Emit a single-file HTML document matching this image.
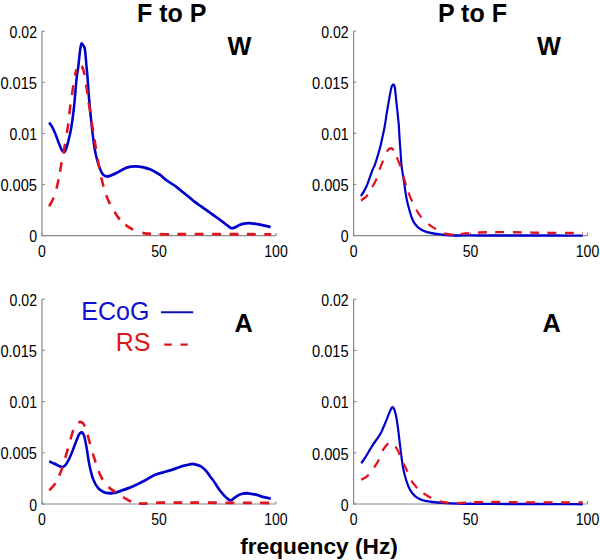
<!DOCTYPE html>
<html><head><meta charset="utf-8"><style>
html,body{margin:0;padding:0;background:#fff;width:600px;height:560px;overflow:hidden}
svg{display:block}
text{font-family:"Liberation Sans",sans-serif;fill:#000}
.t{font-size:16px}
.b{font-weight:bold}
</style></head><body>
<svg width="600" height="560" viewBox="0 0 600 560">
<path d="M42.0,31.25V235.7H276.0" fill="none" stroke="#8a8a8a" stroke-width="1.2"/>
<path d="M42.0,235.70h2.8" stroke="#8a8a8a" stroke-width="1.1"/>
<text transform="translate(37.00,242.40) scale(0.88,1)" text-anchor="end" class="t">0</text>
<path d="M42.0,184.59h2.8" stroke="#8a8a8a" stroke-width="1.1"/>
<text transform="translate(37.00,191.29) scale(0.915,1)" text-anchor="end" class="t">0.005</text>
<path d="M42.0,133.47h2.8" stroke="#8a8a8a" stroke-width="1.1"/>
<text transform="translate(37.00,140.17) scale(0.88,1)" text-anchor="end" class="t">0.01</text>
<path d="M42.0,82.36h2.8" stroke="#8a8a8a" stroke-width="1.1"/>
<text transform="translate(37.00,89.06) scale(0.915,1)" text-anchor="end" class="t">0.015</text>
<path d="M42.0,31.25h2.8" stroke="#8a8a8a" stroke-width="1.1"/>
<text transform="translate(37.00,37.95) scale(0.88,1)" text-anchor="end" class="t">0.02</text>
<path d="M42.00,235.7v-2.8" stroke="#8a8a8a" stroke-width="1.1"/>
<text transform="translate(42.00,257.00) scale(0.88,1)" text-anchor="middle" class="t">0</text>
<path d="M159.00,235.7v-2.8" stroke="#8a8a8a" stroke-width="1.1"/>
<text transform="translate(159.00,257.00) scale(0.88,1)" text-anchor="middle" class="t">50</text>
<path d="M276.00,235.7v-2.8" stroke="#8a8a8a" stroke-width="1.1"/>
<text transform="translate(276.00,257.00) scale(0.88,1)" text-anchor="middle" class="t">100</text>
<path d="M353.6,31.0V235.6H587.5" fill="none" stroke="#8a8a8a" stroke-width="1.2"/>
<path d="M353.6,235.60h2.8" stroke="#8a8a8a" stroke-width="1.1"/>
<text transform="translate(348.60,242.30) scale(0.88,1)" text-anchor="end" class="t">0</text>
<path d="M353.6,184.45h2.8" stroke="#8a8a8a" stroke-width="1.1"/>
<text transform="translate(348.60,191.15) scale(0.915,1)" text-anchor="end" class="t">0.005</text>
<path d="M353.6,133.30h2.8" stroke="#8a8a8a" stroke-width="1.1"/>
<text transform="translate(348.60,140.00) scale(0.88,1)" text-anchor="end" class="t">0.01</text>
<path d="M353.6,82.15h2.8" stroke="#8a8a8a" stroke-width="1.1"/>
<text transform="translate(348.60,88.85) scale(0.915,1)" text-anchor="end" class="t">0.015</text>
<path d="M353.6,31.00h2.8" stroke="#8a8a8a" stroke-width="1.1"/>
<text transform="translate(348.60,37.70) scale(0.88,1)" text-anchor="end" class="t">0.02</text>
<path d="M353.60,235.6v-2.8" stroke="#8a8a8a" stroke-width="1.1"/>
<text transform="translate(353.60,256.90) scale(0.88,1)" text-anchor="middle" class="t">0</text>
<path d="M470.55,235.6v-2.8" stroke="#8a8a8a" stroke-width="1.1"/>
<text transform="translate(470.55,256.90) scale(0.88,1)" text-anchor="middle" class="t">50</text>
<path d="M587.50,235.6v-2.8" stroke="#8a8a8a" stroke-width="1.1"/>
<text transform="translate(587.50,256.90) scale(0.88,1)" text-anchor="middle" class="t">100</text>
<path d="M42.0,299.1V504.0H275.9" fill="none" stroke="#8a8a8a" stroke-width="1.2"/>
<path d="M42.0,504.00h2.8" stroke="#8a8a8a" stroke-width="1.1"/>
<text transform="translate(37.00,510.70) scale(0.88,1)" text-anchor="end" class="t">0</text>
<path d="M42.0,452.77h2.8" stroke="#8a8a8a" stroke-width="1.1"/>
<text transform="translate(37.00,459.47) scale(0.915,1)" text-anchor="end" class="t">0.005</text>
<path d="M42.0,401.55h2.8" stroke="#8a8a8a" stroke-width="1.1"/>
<text transform="translate(37.00,408.25) scale(0.88,1)" text-anchor="end" class="t">0.01</text>
<path d="M42.0,350.33h2.8" stroke="#8a8a8a" stroke-width="1.1"/>
<text transform="translate(37.00,357.03) scale(0.915,1)" text-anchor="end" class="t">0.015</text>
<path d="M42.0,299.10h2.8" stroke="#8a8a8a" stroke-width="1.1"/>
<text transform="translate(37.00,305.80) scale(0.88,1)" text-anchor="end" class="t">0.02</text>
<path d="M42.00,504.0v-2.8" stroke="#8a8a8a" stroke-width="1.1"/>
<text transform="translate(42.00,525.30) scale(0.88,1)" text-anchor="middle" class="t">0</text>
<path d="M158.95,504.0v-2.8" stroke="#8a8a8a" stroke-width="1.1"/>
<text transform="translate(158.95,525.30) scale(0.88,1)" text-anchor="middle" class="t">50</text>
<path d="M275.90,504.0v-2.8" stroke="#8a8a8a" stroke-width="1.1"/>
<text transform="translate(275.90,525.30) scale(0.88,1)" text-anchor="middle" class="t">100</text>
<path d="M353.6,299.3V504.0H587.5" fill="none" stroke="#8a8a8a" stroke-width="1.2"/>
<path d="M353.6,504.00h2.8" stroke="#8a8a8a" stroke-width="1.1"/>
<text transform="translate(348.60,510.70) scale(0.88,1)" text-anchor="end" class="t">0</text>
<path d="M353.6,452.82h2.8" stroke="#8a8a8a" stroke-width="1.1"/>
<text transform="translate(348.60,459.52) scale(0.915,1)" text-anchor="end" class="t">0.005</text>
<path d="M353.6,401.65h2.8" stroke="#8a8a8a" stroke-width="1.1"/>
<text transform="translate(348.60,408.35) scale(0.88,1)" text-anchor="end" class="t">0.01</text>
<path d="M353.6,350.48h2.8" stroke="#8a8a8a" stroke-width="1.1"/>
<text transform="translate(348.60,357.18) scale(0.915,1)" text-anchor="end" class="t">0.015</text>
<path d="M353.6,299.30h2.8" stroke="#8a8a8a" stroke-width="1.1"/>
<text transform="translate(348.60,306.00) scale(0.88,1)" text-anchor="end" class="t">0.02</text>
<path d="M353.60,504.0v-2.8" stroke="#8a8a8a" stroke-width="1.1"/>
<text transform="translate(353.60,525.30) scale(0.88,1)" text-anchor="middle" class="t">0</text>
<path d="M470.55,504.0v-2.8" stroke="#8a8a8a" stroke-width="1.1"/>
<text transform="translate(470.55,525.30) scale(0.88,1)" text-anchor="middle" class="t">50</text>
<path d="M587.50,504.0v-2.8" stroke="#8a8a8a" stroke-width="1.1"/>
<text transform="translate(587.50,525.30) scale(0.88,1)" text-anchor="middle" class="t">100</text>
<g transform="scale(0.905,1)">
<path d="M54.25,122.50C54.88,123.33 56.74,125.33 58.01,127.50C59.28,129.67 60.68,132.83 61.88,135.50C63.08,138.17 64.18,141.17 65.19,143.50C66.21,145.83 67.13,148.08 67.96,149.50C68.78,150.92 69.43,151.83 70.17,152.00C70.90,152.17 71.57,152.02 72.38,150.50C73.19,148.98 73.98,146.65 75.03,142.90C76.08,139.15 77.57,133.82 78.67,128.00C79.78,122.18 80.66,116.27 81.66,108.00C82.65,99.73 83.85,85.17 84.64,78.40C85.43,71.63 85.80,71.85 86.41,67.40C87.02,62.95 87.72,55.60 88.29,51.70C88.86,47.80 89.34,45.20 89.83,44.00C90.33,42.80 90.68,43.92 91.27,44.50C91.86,45.08 92.89,46.30 93.37,47.50C93.85,48.70 93.76,48.38 94.14,51.70C94.53,55.02 95.25,62.95 95.69,67.40C96.13,71.85 96.32,72.97 96.80,78.40C97.27,83.83 97.90,92.90 98.56,100.00C99.23,107.10 100.11,115.17 100.77,121.00C101.44,126.83 101.99,130.83 102.54,135.00C103.09,139.17 103.50,142.58 104.09,146.00C104.68,149.42 105.38,152.67 106.08,155.50C106.78,158.33 107.46,160.58 108.29,163.00C109.12,165.42 110.13,168.08 111.05,170.00C111.97,171.92 112.56,173.42 113.81,174.50C115.06,175.58 116.17,176.70 118.56,176.50C120.96,176.30 124.60,174.78 128.18,173.30C131.75,171.82 136.32,168.77 140.00,167.60C143.68,166.43 146.91,166.28 150.28,166.30C153.65,166.33 157.64,167.26 160.22,167.75C162.80,168.24 163.90,168.58 165.75,169.25C167.59,169.92 169.43,170.83 171.27,171.75C173.11,172.67 174.95,173.53 176.80,174.75C178.64,175.97 180.48,177.79 182.32,179.10C184.16,180.41 186.00,181.47 187.85,182.60C189.69,183.73 191.53,184.68 193.37,185.90C195.21,187.12 197.05,188.57 198.90,189.90C200.74,191.23 202.58,192.57 204.42,193.90C206.26,195.23 208.10,196.55 209.94,197.90C211.79,199.25 213.63,200.72 215.47,202.00C217.31,203.28 219.15,204.42 220.99,205.60C222.84,206.78 224.68,207.93 226.52,209.10C228.36,210.27 230.39,211.53 232.04,212.60C233.70,213.67 235.17,214.67 236.46,215.50C237.75,216.33 238.31,216.63 239.78,217.60C241.25,218.57 243.46,220.03 245.30,221.30C247.15,222.57 249.45,224.22 250.83,225.20C252.21,226.18 252.76,226.70 253.59,227.20C254.42,227.70 255.12,228.07 255.80,228.20C256.48,228.33 257.03,228.13 257.68,228.00C258.32,227.87 258.42,227.93 259.67,227.40C260.92,226.87 263.54,225.43 265.19,224.80C266.85,224.17 267.99,223.87 269.61,223.60C271.23,223.33 273.08,223.18 274.92,223.20C276.76,223.22 278.56,223.45 280.66,223.70C282.76,223.95 284.46,224.17 287.51,224.70C290.57,225.23 297.09,226.53 299.01,226.90" fill="none" stroke="#0000cc" stroke-width="2.8" stroke-linejoin="round"/>
<path d="M398.78,196.20C399.37,195.33 401.20,192.83 402.32,191.00C403.44,189.17 404.46,187.52 405.52,185.20C406.59,182.88 407.72,179.63 408.73,177.10C409.74,174.57 410.70,172.02 411.60,170.00C412.50,167.98 413.43,166.63 414.14,165.00C414.86,163.37 415.17,162.33 415.91,160.20C416.65,158.07 417.73,154.88 418.56,152.20C419.39,149.52 420.17,146.80 420.88,144.10C421.60,141.40 422.23,138.68 422.87,136.00C423.52,133.32 424.20,130.63 424.75,128.00C425.30,125.37 425.73,122.83 426.19,120.20C426.65,117.57 427.03,114.88 427.51,112.20C427.99,109.52 428.55,106.78 429.06,104.10C429.58,101.42 430.07,98.73 430.61,96.10C431.14,93.47 431.80,90.07 432.27,88.30C432.73,86.53 432.98,86.15 433.37,85.50C433.76,84.85 434.20,84.40 434.59,84.40C434.97,84.40 435.40,84.90 435.69,85.50C435.99,86.10 436.08,86.23 436.35,88.00C436.63,89.77 437.03,93.42 437.35,96.10C437.66,98.78 437.92,101.42 438.23,104.10C438.55,106.78 438.91,109.52 439.23,112.20C439.54,114.88 439.87,118.07 440.11,120.20C440.35,122.33 440.42,121.83 440.66,125.00C440.90,128.17 441.25,135.03 441.55,139.20C441.84,143.37 442.06,145.52 442.43,150.00C442.80,154.48 443.08,160.73 443.76,166.10C444.44,171.47 445.62,176.85 446.52,182.20C447.42,187.55 448.14,193.38 449.17,198.20C450.20,203.02 451.53,207.35 452.71,211.10C453.89,214.85 454.77,218.02 456.24,220.70C457.72,223.38 459.47,225.45 461.55,227.20C463.63,228.95 466.06,230.18 468.73,231.20C471.40,232.22 474.62,232.77 477.57,233.30C480.52,233.83 483.13,234.05 486.41,234.40C489.69,234.75 492.72,235.23 497.24,235.40C501.76,235.57 508.10,235.41 513.53,235.42C518.96,235.43 524.39,235.44 529.82,235.44C535.25,235.45 540.68,235.46 546.11,235.47C551.54,235.47 556.98,235.48 562.41,235.49C567.84,235.50 573.27,235.50 578.70,235.51C584.13,235.52 589.56,235.53 594.99,235.53C600.42,235.54 605.85,235.55 611.28,235.56C616.71,235.56 622.14,235.57 627.58,235.58C633.01,235.59 641.15,235.60 643.87,235.60" fill="none" stroke="#0000cc" stroke-width="2.4" stroke-linejoin="round"/>
<path d="M54.36,461.40C55.41,461.82 58.86,463.13 60.66,463.90C62.47,464.67 63.87,465.47 65.19,466.00C66.52,466.53 67.61,467.10 68.62,467.10C69.63,467.10 70.39,466.67 71.27,466.00C72.15,465.33 72.74,464.93 73.92,463.10C75.10,461.27 76.70,458.48 78.34,455.00C79.98,451.52 82.27,445.60 83.76,442.20C85.25,438.80 86.26,436.25 87.29,434.60C88.32,432.95 89.21,432.48 89.94,432.30C90.68,432.12 91.12,432.63 91.71,433.50C92.30,434.37 92.74,434.75 93.48,437.50C94.22,440.25 95.41,446.25 96.13,450.00C96.85,453.75 97.15,456.67 97.79,460.00C98.43,463.33 99.08,466.67 100.00,470.00C100.92,473.33 101.93,477.00 103.31,480.00C104.70,483.00 106.35,485.97 108.29,488.00C110.22,490.03 113.02,491.35 114.92,492.20C116.81,493.05 118.10,492.93 119.67,493.10C121.23,493.27 122.80,493.32 124.31,493.20C125.82,493.08 127.20,492.80 128.73,492.40C130.26,492.00 131.14,491.55 133.48,490.80C135.82,490.05 139.69,489.00 142.76,487.90C145.84,486.80 148.88,485.52 151.93,484.20C154.99,482.88 158.80,481.13 161.10,480.00C163.41,478.87 163.74,478.35 165.75,477.40C167.75,476.45 170.70,475.15 173.15,474.30C175.60,473.45 177.99,472.97 180.44,472.30C182.89,471.63 185.38,471.00 187.85,470.30C190.31,469.60 192.80,468.83 195.25,468.10C197.70,467.37 200.09,466.53 202.54,465.90C204.99,465.27 207.97,464.60 209.94,464.30C211.92,464.00 212.39,463.77 214.36,464.10C216.34,464.43 219.52,465.15 221.77,466.30C224.01,467.45 226.13,469.33 227.85,471.00C229.56,472.67 230.74,474.72 232.04,476.30C233.35,477.88 233.85,478.10 235.69,480.50C237.53,482.90 240.63,487.78 243.09,490.70C245.56,493.62 248.49,496.40 250.50,498.00C252.50,499.60 253.43,500.52 255.14,500.30C256.85,500.08 258.86,497.75 260.77,496.70C262.69,495.65 264.42,494.57 266.63,494.00C268.84,493.43 271.33,493.18 274.03,493.30C276.74,493.42 279.93,494.07 282.87,494.70C285.82,495.33 288.99,496.45 291.71,497.10C294.44,497.75 297.97,498.35 299.23,498.60" fill="none" stroke="#0000cc" stroke-width="2.8" stroke-linejoin="round"/>
<path d="M399.12,463.30C399.78,462.45 401.88,459.87 403.09,458.20C404.31,456.53 405.32,454.93 406.41,453.30C407.50,451.67 408.53,450.03 409.61,448.40C410.70,446.77 411.84,444.97 412.93,443.50C414.01,442.03 415.05,441.00 416.13,439.60C417.22,438.20 418.45,436.58 419.45,435.10C420.44,433.62 421.20,432.42 422.10,430.70C423.00,428.98 424.03,426.60 424.86,424.80C425.69,423.00 426.35,421.53 427.07,419.90C427.79,418.27 428.49,416.53 429.17,415.00C429.85,413.47 430.59,411.83 431.16,410.70C431.73,409.57 432.15,408.77 432.60,408.20C433.04,407.63 433.41,407.30 433.81,407.30C434.22,407.30 434.64,407.63 435.03,408.20C435.41,408.77 435.69,409.38 436.13,410.70C436.57,412.02 437.26,414.32 437.68,416.10C438.10,417.88 438.36,419.62 438.67,421.40C438.99,423.18 439.26,424.87 439.56,426.80C439.85,428.73 440.15,430.83 440.44,433.00C440.74,435.17 440.85,436.20 441.33,439.80C441.80,443.40 442.63,449.90 443.31,454.60C444.00,459.30 444.51,463.80 445.41,468.00C446.32,472.20 447.50,476.23 448.73,479.80C449.96,483.37 451.18,486.68 452.82,489.40C454.46,492.12 456.39,494.37 458.56,496.10C460.74,497.83 463.00,498.87 465.86,499.80C468.71,500.73 472.14,501.20 475.69,501.70C479.24,502.20 483.48,502.52 487.18,502.80C490.88,503.08 493.46,503.23 497.90,503.40C502.34,503.57 508.45,503.73 513.81,503.80C519.17,503.88 524.65,503.83 530.07,503.85C535.49,503.87 540.91,503.88 546.33,503.90C551.74,503.92 557.16,503.93 562.58,503.95C568.00,503.97 573.42,503.98 578.84,504.00C584.26,504.02 589.68,504.03 595.10,504.05C600.52,504.07 605.93,504.08 611.35,504.10C616.77,504.12 622.19,504.13 627.61,504.15C633.03,504.17 641.16,504.19 643.87,504.20" fill="none" stroke="#0000cc" stroke-width="2.4" stroke-linejoin="round"/>
<path d="M54.14,206.50C54.99,205.08 57.85,200.98 59.23,198.00C60.61,195.02 61.55,191.57 62.43,188.60C63.31,185.63 63.89,182.97 64.53,180.20C65.17,177.43 65.71,174.98 66.30,172.00C66.89,169.02 67.44,165.40 68.07,162.30C68.69,159.20 69.39,156.67 70.06,153.40C70.72,150.13 71.42,146.10 72.04,142.70C72.67,139.30 73.22,136.28 73.81,133.00C74.40,129.72 74.99,127.17 75.58,123.00C76.17,118.83 76.72,112.50 77.35,108.00C77.97,103.50 78.69,100.00 79.34,96.00C79.98,92.00 80.53,87.83 81.22,84.00C81.90,80.17 82.69,75.75 83.43,73.00C84.16,70.25 84.81,68.78 85.64,67.50C86.46,66.22 87.64,65.55 88.40,65.30C89.15,65.05 89.61,65.38 90.17,66.00C90.72,66.62 91.22,67.73 91.71,69.00C92.21,70.27 92.74,71.93 93.15,73.60C93.55,75.27 93.83,77.22 94.14,79.00C94.46,80.78 94.62,81.98 95.03,84.30C95.43,86.62 96.10,89.90 96.57,92.90C97.05,95.90 97.40,99.22 97.90,102.30C98.40,105.38 99.04,108.22 99.56,111.40C100.07,114.58 100.46,118.33 100.99,121.40C101.53,124.47 102.17,126.70 102.76,129.80C103.35,132.90 103.98,136.80 104.53,140.00C105.08,143.20 105.52,145.90 106.08,149.00C106.63,152.10 107.24,155.45 107.85,158.60C108.45,161.75 109.06,164.82 109.72,167.90C110.39,170.98 111.05,174.02 111.82,177.10C112.60,180.18 113.43,183.33 114.36,186.40C115.30,189.47 116.26,192.57 117.46,195.50C118.66,198.43 120.07,201.33 121.55,204.00C123.02,206.67 124.64,209.08 126.30,211.50C127.96,213.92 129.52,216.33 131.49,218.50C133.46,220.67 135.54,222.67 138.12,224.50C140.70,226.33 143.83,228.13 146.96,229.50C150.09,230.87 153.59,231.95 156.91,232.70C160.22,233.45 162.62,233.73 166.85,234.00C171.09,234.27 177.59,234.26 182.32,234.30C187.05,234.34 190.91,234.28 195.21,234.27C199.51,234.26 203.81,234.24 208.10,234.23C212.40,234.22 216.22,234.20 220.99,234.20C225.77,234.20 231.48,234.21 236.73,234.22C241.97,234.23 247.22,234.23 252.46,234.24C257.71,234.25 262.95,234.25 268.20,234.26C273.44,234.27 278.69,234.27 283.93,234.28C289.18,234.29 297.05,234.30 299.67,234.30" fill="none" stroke="#e0141e" stroke-width="2.8" stroke-dasharray="0.00 0.49 9.80 9.42 9.80 7.57 9.80 9.00 9.80 10.84 9.80 9.17 9.80 9.67 9.80 9.77 6.69 7.54 9.80 9.49 9.80 8.56 9.80 9.46 9.80 8.35 9.80 9.84 9.80 9.17 9.80 8.84 9.80 9.14 9.80 8.22 9.80 10.60 9.80 9.87 9.80 9.32 9.80 9.54 9.80 9.32 9.80 9.54 9.80 9.21 9.80 9.43 7.96 10000.00"/>
<path d="M398.78,200.80C399.36,200.38 401.09,199.15 402.21,198.30C403.33,197.45 404.01,197.58 405.52,195.70C407.03,193.82 409.56,189.72 411.27,187.00C412.98,184.28 414.51,182.15 415.80,179.40C417.09,176.65 417.73,173.65 419.01,170.50C420.28,167.35 422.10,163.50 423.43,160.50C424.75,157.50 425.99,154.33 426.96,152.50C427.94,150.67 428.51,150.20 429.28,149.50C430.06,148.80 430.85,148.38 431.60,148.30C432.36,148.22 433.02,148.30 433.81,149.00C434.60,149.70 435.58,151.13 436.35,152.50C437.13,153.87 437.51,155.07 438.45,157.20C439.39,159.33 440.94,162.58 441.99,165.30C443.04,168.02 443.70,170.42 444.75,173.50C445.80,176.58 447.26,180.80 448.29,183.80C449.32,186.80 449.76,188.57 450.94,191.50C452.12,194.43 453.89,198.40 455.36,201.40C456.83,204.40 458.16,206.95 459.78,209.50C461.40,212.05 462.85,214.28 465.08,216.70C467.31,219.12 470.48,221.98 473.15,224.00C475.82,226.02 478.20,227.25 481.10,228.80C484.01,230.35 487.64,232.33 490.61,233.30C493.57,234.27 496.69,234.40 498.90,234.60C501.10,234.80 501.57,234.67 503.87,234.50C506.17,234.33 509.76,233.87 512.71,233.60C515.65,233.33 517.50,233.12 521.55,232.90C525.60,232.68 532.87,232.42 537.02,232.30C541.16,232.18 543.28,232.23 546.41,232.20C549.54,232.17 552.58,232.09 555.80,232.10C559.02,232.11 562.43,232.20 565.75,232.25C569.06,232.30 572.47,232.35 575.69,232.40C578.91,232.45 581.95,232.50 585.08,232.55C588.21,232.60 591.25,232.66 594.48,232.70C597.70,232.74 601.10,232.77 604.42,232.80C607.73,232.83 611.14,232.88 614.36,232.90C617.59,232.93 620.63,232.93 623.76,232.95C626.89,232.97 629.80,233.01 633.15,233.00C636.50,232.99 642.08,232.92 643.87,232.90" fill="none" stroke="#e0141e" stroke-width="2.4" stroke-dasharray="0.00 0.33 9.80 8.79 9.80 9.35 9.80 9.87 9.80 7.75 9.80 9.83 9.80 8.13 9.80 9.24 9.80 10.05 9.80 10.03 9.80 8.59 9.80 9.26 9.80 9.32 9.80 9.76 9.80 9.32 9.80 9.21 9.80 9.65 9.80 8.99 0.99 10000.00"/>
<path d="M54.36,490.40C55.41,489.33 58.73,486.68 60.66,484.00C62.60,481.32 64.49,477.25 65.97,474.30C67.44,471.35 68.32,469.52 69.50,466.30C70.68,463.08 71.86,458.75 73.04,455.00C74.22,451.25 75.40,447.55 76.57,443.80C77.75,440.05 78.91,435.72 80.11,432.50C81.31,429.28 82.45,426.25 83.76,424.50C85.06,422.75 86.81,422.33 87.96,422.00C89.10,421.67 89.78,422.03 90.61,422.50C91.44,422.97 91.86,422.60 92.93,424.80C94.00,427.00 95.60,431.47 97.02,435.70C98.43,439.93 99.94,445.63 101.44,450.20C102.93,454.77 104.48,459.08 105.97,463.10C107.46,467.12 108.90,471.23 110.39,474.30C111.88,477.37 113.28,479.32 114.92,481.50C116.56,483.68 117.53,485.27 120.22,487.40C122.91,489.53 127.44,492.17 131.05,494.30C134.66,496.43 138.86,498.80 141.88,500.20C144.90,501.60 146.57,502.12 149.17,502.70C151.77,503.28 154.70,503.62 157.46,503.70C160.22,503.78 162.52,503.37 165.75,503.20C168.97,503.03 173.11,502.79 176.80,502.70C180.48,502.61 184.16,502.67 187.85,502.65C191.53,502.63 194.69,502.60 198.90,502.60C203.10,502.60 208.37,502.64 213.10,502.66C217.84,502.68 222.57,502.70 227.31,502.71C232.04,502.73 236.78,502.75 241.52,502.77C246.25,502.79 250.99,502.81 255.72,502.83C260.46,502.85 265.19,502.87 269.93,502.89C274.66,502.90 279.40,502.92 284.14,502.94C288.87,502.96 295.97,502.99 298.34,503.00" fill="none" stroke="#e0141e" stroke-width="2.8" stroke-dasharray="0.00 0.17 9.80 8.49 9.80 9.32 9.80 9.54 9.80 9.66 9.80 8.51 9.80 9.71 9.80 9.02 9.80 9.85 9.80 9.11 9.80 8.99 9.80 9.32 9.80 9.32 9.80 8.65 9.80 9.76 9.80 9.65 9.80 9.43 9.80 9.32 9.80 10000.00"/>
<path d="M399.12,479.70C399.72,479.42 401.55,478.68 402.76,478.00C403.98,477.32 405.21,476.63 406.41,475.60C407.61,474.57 408.78,473.15 409.94,471.80C411.10,470.45 412.01,469.37 413.37,467.50C414.73,465.63 416.57,463.37 418.12,460.60C419.67,457.83 421.44,453.17 422.65,450.90C423.87,448.63 424.51,448.10 425.41,447.00C426.32,445.90 427.15,444.92 428.07,444.30C428.99,443.68 430.00,443.32 430.94,443.30C431.88,443.28 432.73,443.68 433.70,444.20C434.68,444.72 435.87,445.43 436.80,446.40C437.72,447.37 438.47,448.75 439.23,450.00C439.98,451.25 440.29,451.77 441.33,453.90C442.36,456.03 444.05,460.08 445.41,462.80C446.78,465.52 447.99,467.23 449.50,470.20C451.01,473.17 452.71,477.77 454.48,480.60C456.24,483.43 457.94,485.12 460.11,487.20C462.28,489.28 464.92,491.37 467.51,493.10C470.11,494.83 472.69,496.23 475.69,497.60C478.69,498.97 482.36,500.43 485.52,501.30C488.69,502.17 491.51,502.48 494.70,502.80C497.88,503.12 501.45,503.23 504.64,503.20C507.83,503.17 510.63,502.75 513.81,502.60C517.00,502.45 520.63,502.38 523.76,502.30C526.89,502.23 529.65,502.20 532.60,502.15C535.54,502.10 538.12,502.02 541.44,502.00C544.75,501.98 548.80,501.98 552.49,502.00C556.17,502.02 559.85,502.10 563.54,502.15C567.22,502.20 570.43,502.27 574.59,502.30C578.74,502.33 583.82,502.33 588.44,502.34C593.06,502.35 597.68,502.37 602.30,502.38C606.92,502.39 611.54,502.41 616.15,502.42C620.77,502.43 625.39,502.45 630.01,502.46C634.63,502.47 641.56,502.49 643.87,502.50" fill="none" stroke="#e0141e" stroke-width="2.4" stroke-dasharray="9.80 9.29 9.80 9.25 9.80 8.80 9.80 8.91 9.80 9.92 9.80 8.66 9.80 9.98 9.80 9.27 9.80 9.34 9.80 9.21 9.80 9.54 9.80 9.43 9.80 9.43 9.80 9.43 9.80 9.43 4.86 10000.00"/>
</g>
<text transform="translate(171.80,21.60) scale(1.0,1)" text-anchor="middle" class="b" style="font-size:25px">F to P</text>
<text transform="translate(472.40,22.00) scale(1.0,1)" text-anchor="middle" class="b" style="font-size:25px">P to F</text>
<text transform="translate(239.50,55.00) scale(1.0,1)" text-anchor="middle" class="b" style="font-size:25.3px">W</text>
<text transform="translate(548.90,55.00) scale(1.0,1)" text-anchor="middle" class="b" style="font-size:25.3px">W</text>
<text transform="translate(243.60,332.40) scale(1.0,1)" text-anchor="middle" class="b" style="font-size:25.3px">A</text>
<text transform="translate(551.60,332.20) scale(1.0,1)" text-anchor="middle" class="b" style="font-size:25.3px">A</text>
<text x="81.3" y="320.3" style="font-size:25px;fill:#1010d0">ECoG</text>
<text x="115.8" y="350.8" style="font-size:25px;fill:#d81818">RS</text>
<path d="M161,312.2H193.2" stroke="#1010b0" stroke-width="2"/>
<path d="M164.3,344.6H171.8M180.5,344.6H187.7" stroke="#d81818" stroke-width="2.4"/>
<text transform="translate(319.00,554.30) scale(1.0,1)" text-anchor="middle" class="b" style="font-size:22.7px">frequency (Hz)</text>
</svg>
</body></html>
